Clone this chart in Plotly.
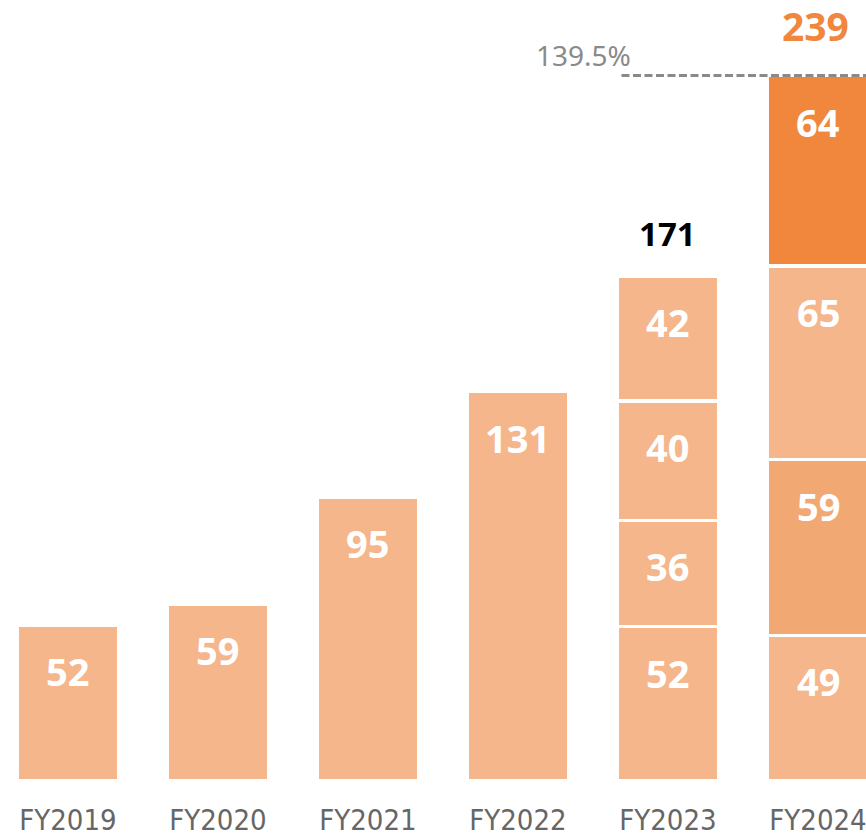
import plotly.graph_objects as go

# ---- data ----
years = ["FY2019", "FY2020", "FY2021", "FY2022", "FY2023", "FY2024"]
# segment heights
seg1 = [52.7, 59.8, 96.3, 131.9, 52.3, 49.3]
seg2 = [None, None, None, None, 36.0, 59.6]
seg3 = [None, None, None, None, 40.5, 65.5]
seg4 = [None, None, None, None, 42.2, 64.6]
# printed labels
lab1 = ["52", "59", "95", "131", "52", "49"]
lab2 = [None, None, None, None, "36", "59"]
lab3 = [None, None, None, None, "40", "65"]
lab4 = [None, None, None, None, "42", "64"]
totals = {"FY2023": 171, "FY2024": 239}
growth_label = "139.5%"

LIGHT = "#F5B68C"
MID = "#F2A873"
DARK = "#F0873D"
colors1 = [LIGHT] * 6
colors2 = [LIGHT] * 5 + [MID]
colors3 = [LIGHT] * 6
colors4 = [LIGHT] * 5 + [DARK]

BAR_W = 0.68
LABEL_FONT = "Noto Sans, Roboto, DejaVu Sans, sans-serif"

fig = go.Figure()
for vals, cols in [(seg1, colors1), (seg2, colors2), (seg3, colors3), (seg4, colors4)]:
    fig.add_trace(go.Bar(
        x=years, y=vals, width=BAR_W,
        marker=dict(color=cols, line=dict(color="white", width=3.5)),
        hoverinfo="skip", showlegend=False,
    ))

# segment value labels, placed just below each segment top
annotations = []
for i, yr in enumerate(years):
    cum = 0
    for seg, lab in ((seg1, lab1), (seg2, lab2), (seg3, lab3), (seg4, lab4)):
        v = seg[i]
        if v is None:
            continue
        cum += v
        annotations.append(dict(
            x=yr, y=cum, xref="x", yref="y", text=lab[i], showarrow=False,
            yanchor="middle", yshift=-46,
            font=dict(family=LABEL_FONT, size=38, color="white", weight="bold"),
        ))

# totals
annotations.append(dict(x="FY2023", y=totals["FY2023"], text=str(totals["FY2023"]),
                        showarrow=False, yanchor="middle", yshift=43,
                        font=dict(family=LABEL_FONT, size=33, color="black", weight="bold")))
annotations.append(dict(x="FY2024", y=totals["FY2024"], text=str(totals["FY2024"]),
                        showarrow=False, yanchor="middle", yshift=50, xshift=-3,
                        borderpad=0,
                        font=dict(family=LABEL_FONT, size=39, color=DARK, weight="bold")))

# dashed reference line from FY2023 to FY2024 right edge at FY2024 total
x0 = years.index("FY2023") - 0.31
x1 = years.index("FY2024") + BAR_W / 2
fig.add_shape(type="line", xref="x", yref="y", x0=x0, x1=x1,
              y0=totals["FY2024"], y1=totals["FY2024"],
              line=dict(color="#8A8A8A", width=3, dash="8px,3.5px"))
annotations.append(dict(x=x0, y=totals["FY2024"], xref="x", yref="y", text=growth_label,
                        showarrow=False, xanchor="right", yanchor="middle",
                        xshift=12, yshift=21,
                        font=dict(family=LABEL_FONT, size=28, color="#8A8A8A")))

fig.update_layout(
    width=866, height=839,
    margin=dict(l=0, r=0, t=0, b=58),
    plot_bgcolor="white", paper_bgcolor="white",
    barmode="stack", annotations=annotations,
    xaxis=dict(range=[-0.453, 5.32], showline=False, showgrid=False, zeroline=False,
               automargin=False,
               ticks="outside", ticklen=13, tickcolor="rgba(0,0,0,0)",
               tickfont=dict(family="DejaVu Sans Condensed, Liberation Sans Narrow, sans-serif",
                             size=29, color="#666666")),
    yaxis=dict(range=[0, 264.6], visible=False, automargin=False),
)

fig.write_html("out.html", config={"displayModeBar": False},
               post_script="document.body.style.margin='0';document.body.style.padding='0';")
